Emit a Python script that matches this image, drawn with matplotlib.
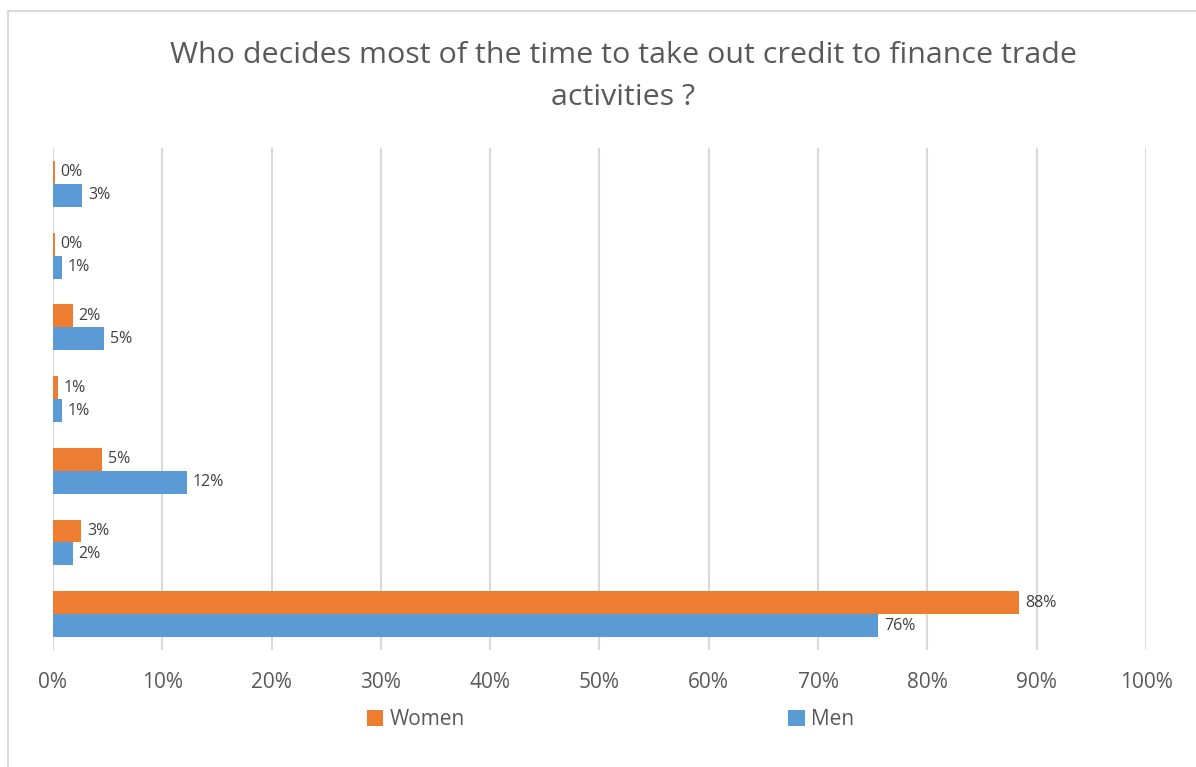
import matplotlib.pyplot as plt
from matplotlib.lines import Line2D
import numpy as np

# 数据（自上而下，共 7 组，原图无类别标签）
women = [0.2, 0.2, 1.8, 0.5, 4.5, 2.6, 88.4]
men = [2.7, 0.8, 4.7, 0.8, 12.3, 1.8, 75.5]
women_labels = ['0%', '0%', '2%', '1%', '5%', '3%', '88%']
men_labels = ['3%', '1%', '5%', '1%', '12%', '2%', '76%']
x_ticks = [0, 10, 20, 30, 40, 50, 60, 70, 80, 90, 100]
title = 'Who decides most of the time to take out credit to finance trade\nactivities ?'

ORANGE = '#ED7D31'
BLUE = '#5B9BD5'
GRID = '#D9D9D9'
TEXT = '#595959'

plt.rcParams['font.family'] = ['Open Sans', 'DejaVu Sans']

fig = plt.figure(figsize=(11.96, 7.67), dpi=100)
ax = fig.add_axes([0.0443, 0.1525, 0.9139, 0.6545])

y = np.arange(len(women))
h = 0.32
bw = ax.barh(y - h / 2, women, height=h, color=ORANGE, label='Women', zorder=3)
bm = ax.barh(y + h / 2, men, height=h, color=BLUE, label='Men', zorder=3)

for yy, v, t in zip(y, women, women_labels):
    ax.annotate(t, (v, yy - h / 2), xytext=(4, 0), textcoords='offset points',
                va='center', ha='left', fontsize=11.5, color='#404040')
for yy, v, t in zip(y, men, men_labels):
    ax.annotate(t, (v, yy + h / 2), xytext=(4, 0), textcoords='offset points',
                va='center', ha='left', fontsize=11.5, color='#404040')

ax.set_xlim(0, 100)
ax.set_ylim(len(women) - 0.5, -0.5)
ax.set_xticks(x_ticks)
ax.set_xticklabels([f'{t}%' for t in x_ticks], fontsize=15, color=TEXT)
ax.set_yticks([])
ax.tick_params(axis='x', length=0, pad=16)
ax.grid(axis='x', color=GRID, linewidth=1.5, zorder=0)
for s in ax.spines.values():
    s.set_visible(False)

fig.suptitle(title, x=0.521, y=0.946, fontsize=21.9, color=TEXT,
             fontweight='normal', linespacing=1.55)

fig.legend(handles=[bw, bm], loc='center left', bbox_to_anchor=(0.291, 0.062),
           ncol=2, frameon=False, fontsize=15, handlelength=0.8, handleheight=0.8,
           handletextpad=0.3, columnspacing=15.5, labelcolor=TEXT)

# 外框
fig.add_artist(Line2D([8 / 1196, 8 / 1196], [0, 1 - 11 / 767], color=GRID, linewidth=1.5))
fig.add_artist(Line2D([8 / 1196, 1], [1 - 11 / 767, 1 - 11 / 767], color=GRID, linewidth=1.5))

fig.savefig('out.png', dpi=100)
